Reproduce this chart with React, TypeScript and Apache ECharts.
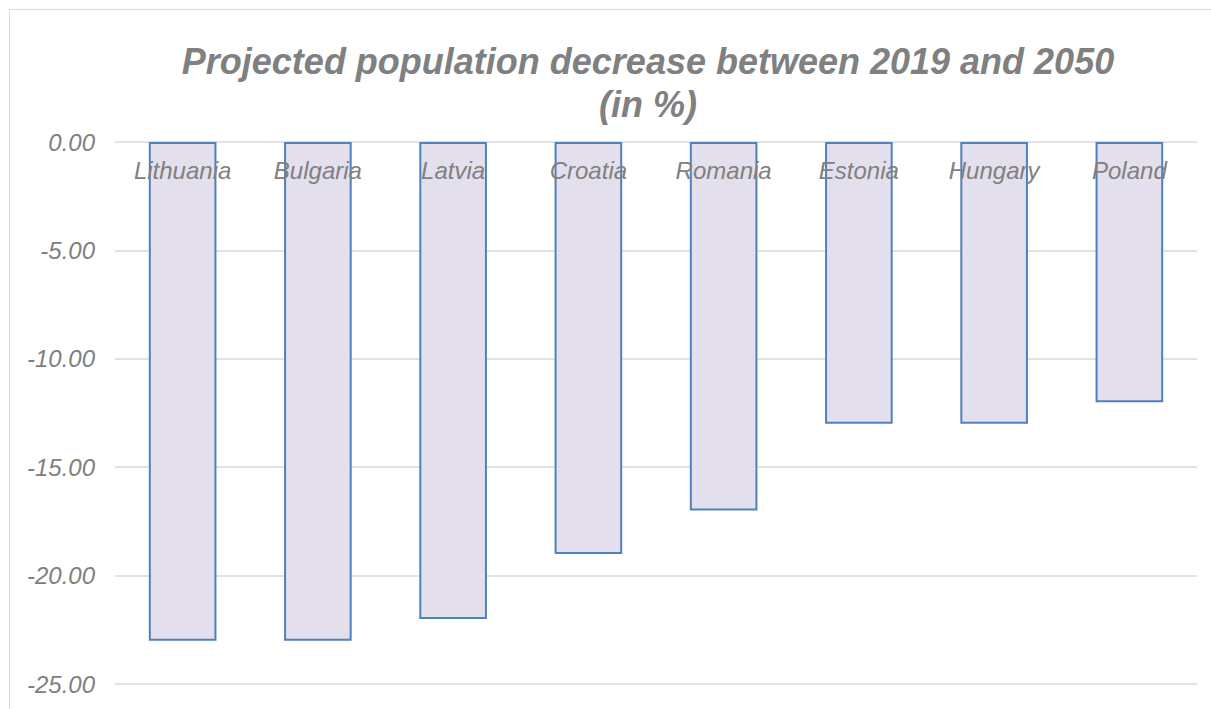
import React, { useEffect, useRef } from "react";
import * as echarts from "echarts";

const countries = ["Lithuania", "Bulgaria", "Latvia", "Croatia", "Romania", "Estonia", "Hungary", "Poland"];
const decrease = [-23, -23, -22, -19, -17, -13, -13, -12];
const titleLines = ["Projected population decrease between 2019 and 2050", "(in %)"];

export default function App() {
  const ref = useRef<HTMLDivElement>(null);
  useEffect(() => {
    if (!ref.current) return;
    const chart = echarts.init(ref.current, undefined, { renderer: "svg" });
    const font = "'Liberation Sans', Arial, sans-serif";
    chart.setOption({
      animation: false,
      backgroundColor: "#ffffff",
      title: {
        text: titleLines.join("\n"),
        left: 643,
        textAlign: "center",
        top: 35,
        textStyle: {
          fontFamily: font,
          fontSize: 36,
          fontWeight: "bold",
          fontStyle: "italic",
          color: "#808080",
          lineHeight: 43,
        },
      },
      graphic: [
        {
          type: "rect",
          shape: { x: 9.5, y: 9.5, width: 1400, height: 900 },
          style: { fill: "none", stroke: "#D9D9D9", lineWidth: 1 },
          silent: true,
        },
      ],
      grid: { left: 115, right: 14, top: 142, bottom: 25, containLabel: false },
      xAxis: {
        type: "category",
        data: countries,
        position: "top",
        z: 10,
        axisLine: { show: false },
        axisTick: { show: false },
        axisLabel: {
          inside: true,
          margin: 16,
          fontFamily: font,
          fontSize: 24,
          fontStyle: "italic",
          color: "#808080",
        },
      },
      yAxis: {
        type: "value",
        min: -25,
        max: 0,
        interval: 5,
        axisLine: { show: false },
        axisTick: { show: false },
        splitLine: { lineStyle: { color: "#D9D9D9", width: 1.5 } },
        axisLabel: {
          margin: 20,
          fontFamily: font,
          fontSize: 24,
          fontStyle: "italic",
          color: "#808080",
          formatter: (v: number) => v.toFixed(2),
        },
      },
      series: [
        {
          type: "bar",
          data: decrease,
          barWidth: "50%",
          itemStyle: { color: "#E4DFEC", borderColor: "#4F81BD", borderWidth: 2 },
        },
      ],
    });
    return () => chart.dispose();
  }, []);
  return (
    <div
      ref={ref}
      style={{ position: "fixed", left: 0, top: 0, width: 1211, height: 709 }}
    />
  );
}
